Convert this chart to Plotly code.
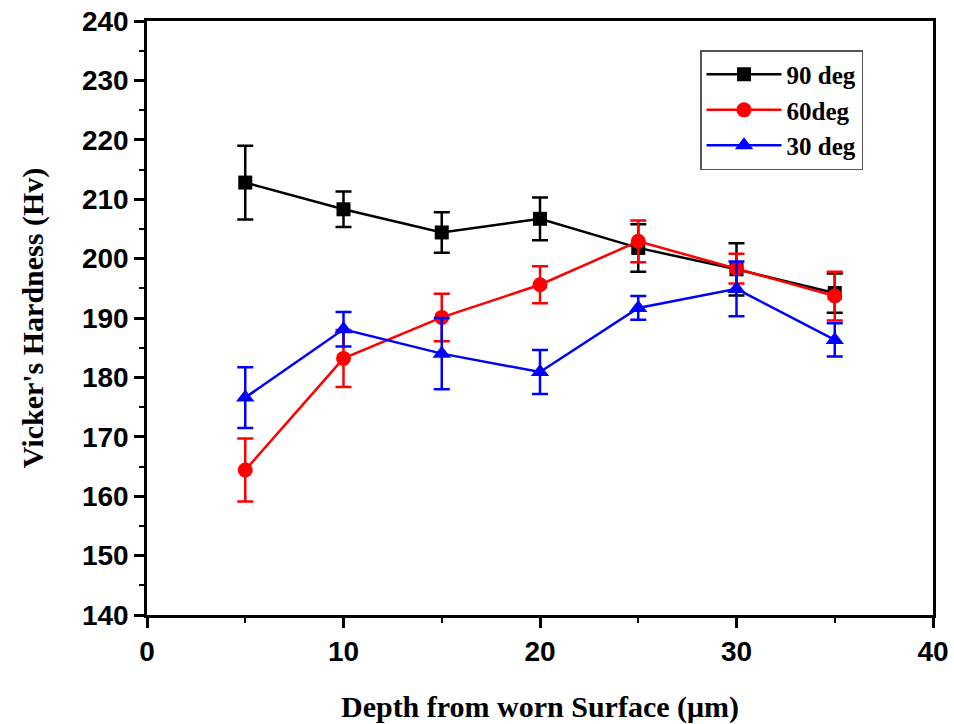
import plotly.graph_objects as go

depth = [5, 10, 15, 20, 25, 30, 35]

hv_90 = [212.8, 208.3, 204.4, 206.7, 201.8, 198.2, 194.2]
err_90 = [6.2, 3.0, 3.4, 3.6, 4.0, 4.4, 3.3]

hv_60 = [164.4, 183.2, 190.1, 195.6, 202.9, 198.3, 193.7]
err_60 = [5.3, 4.8, 4.0, 3.1, 3.5, 2.5, 4.1]

hv_30 = [176.6, 188.1, 184.0, 180.9, 191.7, 194.9, 186.3]
err_30 = [5.1, 2.9, 6.0, 3.7, 2.0, 4.6, 2.8]

series = [
    ("90 deg", hv_90, err_90, "#000000", "square", 14),
    ("60deg", hv_60, err_60, "#ff0000", "circle", 15),
    ("30 deg", hv_30, err_30, "#0000ff", "triangle-up", 16),
]

fig = go.Figure()
for name, y, e, color, sym, sz in series:
    fig.add_trace(go.Scatter(
        x=depth, y=y, name="<b>" + name + "</b>", mode="lines+markers",
        line=dict(color=color, width=2.5),
        marker=dict(symbol=sym, size=sz, color=color),
        error_y=dict(type="data", array=e, visible=True, color=color,
                     thickness=2.5, width=8),
    ))

tickfont = dict(family="Liberation Sans, Arial", size=28, color="black")
titlefont = dict(family="Liberation Serif, Times New Roman", size=30, color="black")

fig.update_layout(
    width=954, height=724,
    margin=dict(l=147, r=21, t=21, b=109),
    paper_bgcolor="white", plot_bgcolor="white",
    showlegend=True,
    legend=dict(
        x=0.7036, y=0.951, xanchor="left", yanchor="top",
        bordercolor="#555555", borderwidth=1.5, bgcolor="white",
        font=dict(family="Liberation Serif, Times New Roman", size=25, color="black"),
        tracegroupgap=0, itemwidth=75,
    ),
    xaxis=dict(
        range=[0, 40], tickmode="linear", tick0=0, dtick=10,
        ticks="outside", ticklen=10, tickwidth=2.5, tickcolor="black",
        showline=True, linewidth=2.5, linecolor="black", mirror=True,
        showgrid=False, zeroline=False, automargin=False,
        tickfont=tickfont, tickprefix="<b>", ticksuffix="</b>",
        title=dict(text="<b>Depth from worn Surface (μm)</b>", font=titlefont, standoff=30),
        minor=dict(ticks="outside", ticklen=5, tickwidth=2, tickcolor="black", dtick=5, showgrid=False),
    ),
    yaxis=dict(
        range=[140, 240], tickmode="linear", tick0=140, dtick=10,
        ticks="outside", ticklen=10, tickwidth=2.5, tickcolor="black",
        showline=True, linewidth=2.5, linecolor="black", mirror=True,
        showgrid=False, zeroline=False, automargin=False,
        tickfont=tickfont, tickprefix="<b>", ticksuffix="</b>",
        title=dict(text="<b>Vicker's Hardness (Hv)</b>", font=titlefont, standoff=30),
        minor=dict(ticks="outside", ticklen=5, tickwidth=2, tickcolor="black", dtick=5, showgrid=False),
    ),
)

fig.write_html("out.html", config={"displayModeBar": False},
               post_script="document.body.style.margin='0';")
